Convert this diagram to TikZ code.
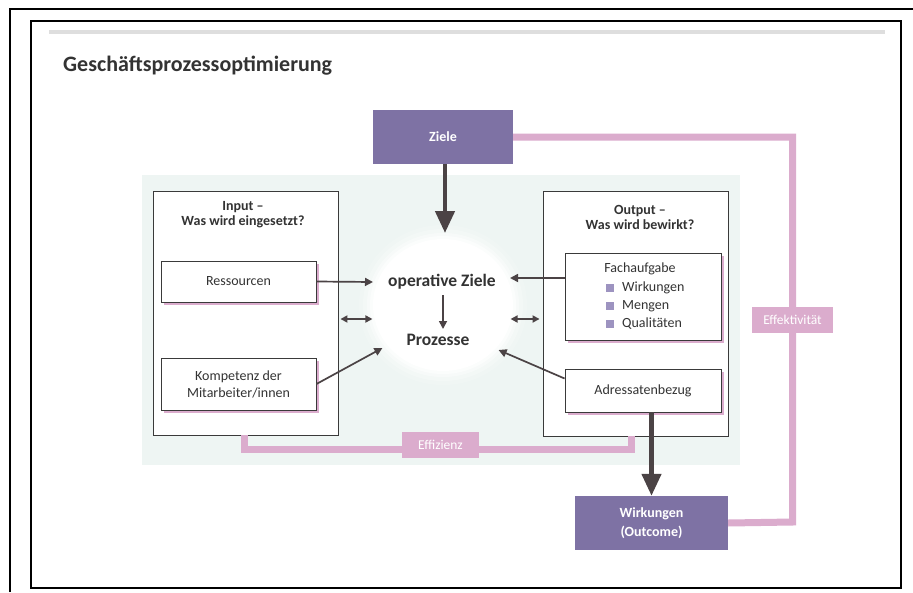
\documentclass[tikz,border=0pt]{standalone}
\usepackage{fontspec}
\setmainfont{Carlito}
\usetikzlibrary{arrows.meta,calc,shadows}

\definecolor{purplebox}{HTML}{7E72A4}
\definecolor{pinkc}{HTML}{DBACCD}
\definecolor{arrowc}{HTML}{4B4345}
\definecolor{boxline}{HTML}{3A3A3A}
\definecolor{txt}{HTML}{333333}
\definecolor{panelbg}{HTML}{EEF5F3}
\definecolor{rulegray}{HTML}{DEDEDE}
\definecolor{bulletc}{HTML}{9D93C0}

\begin{document}
\begin{tikzpicture}[x=1pt,y=-1pt,
  every node/.style={inner sep=0pt, text=txt},
  plainbox/.style={draw=boxline, line width=0.9pt, fill=white, align=center,
    font=\fontsize{14}{17}\selectfont},
  shadowbox/.style={plainbox, drop shadow={shadow xshift=3pt, shadow yshift=-3pt,
    fill=pinkc, opacity=1}},
  headtxt/.style={align=center, font=\fontsize{14}{15}\selectfont\bfseries},
  bodytxt/.style={font=\fontsize{14}{17}\selectfont},
  goalbox/.style={fill=purplebox, align=center, text=white,
    font=\fontsize{14}{19}\selectfont\bfseries},
  pinklabel/.style={fill=pinkc, text=white, font=\fontsize{13.5}{15}\selectfont,
    minimum height=26pt},
  pinkline/.style={draw=pinkc, line width=7pt, line join=miter},
  thinarrow/.style={draw=arrowc, line width=1.7pt,
    -{Triangle[length=8pt,width=8pt]}},
  botharrow/.style={draw=arrowc, line width=1.7pt,
    {Triangle[length=7pt,width=7pt]}-{Triangle[length=7pt,width=7pt]}},
  bigarrow/.style={draw=arrowc, line width=4.5pt,
    -{Triangle[length=22pt,width=19pt]}},
  bullet/.style={fill=bulletc, minimum size=8pt},
  coretxt/.style={font=\fontsize{17.5}{20}\selectfont\bfseries}
]
\useasboundingbox (0,0) rectangle (913,592);
\fill[white] (0,0) rectangle (913,592);

% page frames and header rule
\draw[line width=2pt] (10,592) -- (10,9) -- (913,9);
\draw[line width=2pt] (31,21) rectangle (901,588);
\draw[line width=3.5pt, rulegray] (49,32) -- (885,32);

\node[anchor=base west, font=\fontsize{22}{26}\selectfont\bfseries] (title)
  at (63,71) {Geschäftsprozessoptimierung};

% light panel behind the process core
\fill[panelbg] (142,175) rectangle (740,465);

% soft white disc around the centre
\foreach \r/\o in {14/0.15, 10/0.25, 6/0.4, 3/0.6} {
  \fill[white, opacity=\o] (443,305) ellipse [x radius={70pt+\r pt}, y radius={66pt+\r pt}];
}
\fill[white] (443,305) ellipse [x radius=70pt, y radius=66pt];

% purple goal boxes
\node[goalbox, minimum width=140pt, minimum height=54pt] (ziele) at (443,137) {Ziele};
\node[goalbox, minimum width=153pt, minimum height=54pt] (wirk) at (651.5,523)
  {Wirkungen\\(Outcome)};

% input / output frames
\node[plainbox, minimum width=185pt, minimum height=244pt] (inp) at (245.5,313) {};
\node[plainbox, minimum width=185pt, minimum height=245pt] (out) at (635.5,313.5) {};

% pink feedback loops
\draw[pinkline] (ziele.east) -| (792.5,522) -- (wirk.east);
\draw[pinkline] ($(inp.south)+(-1.5,0)$) -- ++(0,14) -| ($(out.south)+(-4.5,0)$);
\node[pinklabel, minimum width=81pt] (effekt) at (792.5,320) {Effektivität};
\node[pinklabel, minimum width=77pt] (effiz) at (440.5,445) {Effizienz};

\node[headtxt] (inph) at (243,215) {Input –\\Was wird eingesetzt?};
\node[headtxt] (outh) at (640,217) {Output –\\Was wird bewirkt?};

% inner boxes
\node[shadowbox, minimum width=155pt, minimum height=41pt] (res) at (238.5,281.5) {Ressourcen};
\node[shadowbox, minimum width=155pt, minimum height=52pt] (kom) at (238.5,384)
  {Kompetenz der\\Mitarbeiter/innen};
\node[shadowbox, minimum width=156pt, minimum height=87pt] (fach) at (643,296.5) {};
\node[shadowbox, minimum width=156pt, minimum height=43pt] (adr) at (643,390.5) {Adressatenbezug};

\node[bodytxt] (fachh) at (640,269) {Fachaufgabe};
\node[bullet] (b1) at (610,288) {};
\node[bullet] (b2) at (610,306) {};
\node[bullet] (b3) at (610,324) {};
\node[bodytxt, anchor=west] (t1) at (622,288) {Wirkungen};
\node[bodytxt, anchor=west] (t2) at (622,306) {Mengen};
\node[bodytxt, anchor=west] (t3) at (622,324) {Qualitäten};

% process core
\node[coretxt] (op) at (442,282) {operative Ziele};
\node[coretxt] (pr) at (438,340) {Prozesse};

% connectors
\coordinate (zieltip) at (445,233);
\draw[bigarrow] (ziele.south -| zieltip) -- (zieltip);
\draw[bigarrow] (adr.south -| wirk.north) -- (wirk.north);

\coordinate (opb) at (443,295);
\coordinate (prt) at (443,329);
\draw[thinarrow] (opb) -- (prt);
\draw[thinarrow] (res.east) -- ($(op.west)+(-15,0)$);
\draw[thinarrow] (kom.east) -- ($(pr.west)+(-24,8)$);
\draw[thinarrow] ($(fach.west)+(0,-18.5)$) -- ($(op.east)+(14,-4)$);
\draw[thinarrow] ($(adr.west)+(0,-12)$) -- ($(pr.east)+(29,10)$);

\coordinate (la) at ($(inp.east)+(2,6)$);
\coordinate (lb) at ($(inp.east)+(34,6)$);
\coordinate (ra) at ($(out.west)+(-32,5.5)$);
\coordinate (rb) at ($(out.west)+(-3,5.5)$);
\draw[botharrow] (la) -- (lb);
\draw[botharrow] (ra) -- (rb);
\end{tikzpicture}
\end{document}
